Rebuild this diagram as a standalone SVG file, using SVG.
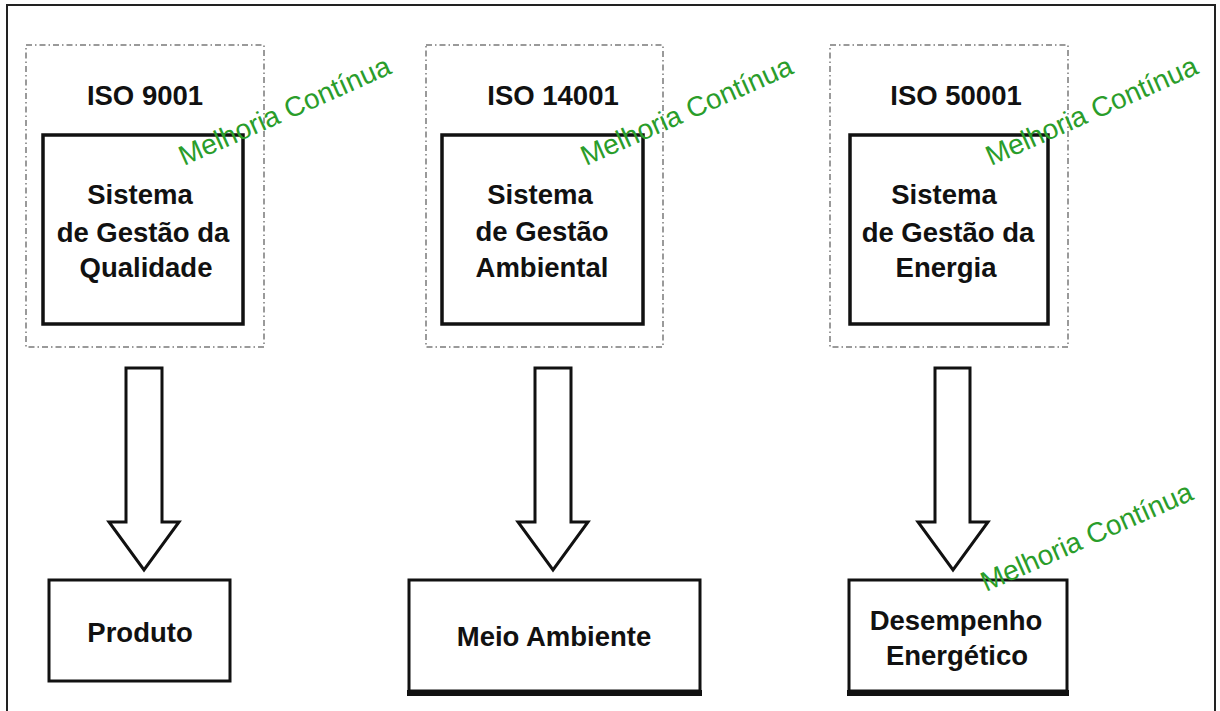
<svg xmlns="http://www.w3.org/2000/svg" width="1220" height="711" viewBox="0 0 1220 711">
<style>
.frame{fill:none;stroke:#222;stroke-width:2}
.dot{fill:none;stroke:#7a7a7a;stroke-width:1.5;stroke-dasharray:6 3 1.5 3}
.box{fill:#fff;stroke:#111;stroke-width:3.5}
.out{fill:#fff;stroke:#111;stroke-width:3}
.arrow{fill:#fff;stroke:#111;stroke-width:3;stroke-linejoin:miter}
.t{font-family:"Liberation Sans",Arial,sans-serif;font-weight:bold;font-size:27.5px;fill:#111;text-anchor:middle}
.g{font-family:"Liberation Sans",Arial,sans-serif;font-size:28px;fill:#2a9d2a}
</style>
<rect width="1220" height="711" fill="#fff"/>
<rect class="frame" x="7" y="5" width="1208" height="730"/>

<g id="iso9001">
<rect class="dot" x="26" y="45" width="238" height="302"/>
<text class="t" x="145" y="105">ISO 9001</text>
<rect class="box" x="43" y="135" width="200" height="189"/>
<text class="t" x="140" y="204">Sistema</text>
<text class="t" x="143" y="242">de Gestão da</text>
<text class="t" x="146" y="277">Qualidade</text>
</g>

<g id="iso14001">
<rect class="dot" x="426" y="45" width="237" height="302"/>
<text class="t" x="553" y="105">ISO 14001</text>
<rect class="box" x="442" y="135" width="201" height="189"/>
<text class="t" x="540" y="204">Sistema</text>
<text class="t" x="542" y="241">de Gestão</text>
<text class="t" x="542" y="277">Ambiental</text>
</g>

<g id="iso50001">
<rect class="dot" x="830" y="45" width="238" height="302"/>
<text class="t" x="956" y="105">ISO 50001</text>
<rect class="box" x="850" y="135" width="198" height="189"/>
<text class="t" x="944" y="204">Sistema</text>
<text class="t" x="948" y="242">de Gestão da</text>
<text class="t" x="946" y="277">Energia</text>
</g>

<g id="connectors">
<polygon class="arrow" points="126,368 162,368 162,522 179,522 144,570 109,522 126,522"/>
<polygon class="arrow" points="535,368 571,368 571,522 588,522 553,570 518,522 535,522"/>
<polygon class="arrow" points="935,368 970,368 970,522 988,522 953,570 918,522 935,522"/>
</g>

<g id="produto">
<rect class="out" x="49" y="580" width="181" height="101"/>
<text class="t" x="140" y="642">Produto</text>
</g>

<g id="meio-ambiente">
<rect class="out" x="409" y="580" width="291" height="111"/>
<line x1="407" y1="693" x2="702" y2="693" stroke="#111" stroke-width="6"/>
<text class="t" x="554" y="646">Meio Ambiente</text>
</g>

<g id="desempenho">
<rect class="out" x="849" y="580" width="218" height="111"/>
<line x1="847" y1="693" x2="1069" y2="693" stroke="#111" stroke-width="6"/>
<text class="t" x="956" y="630">Desempenho</text>
<text class="t" x="957" y="665">Energético</text>
</g>

<g id="melhoria">
<text class="g" transform="translate(184,166) rotate(-24)">Melhoria Contínua</text>
<text class="g" transform="translate(586,166) rotate(-24)">Melhoria Contínua</text>
<text class="g" transform="translate(991,166) rotate(-24)">Melhoria Contínua</text>
<text class="g" transform="translate(986,592) rotate(-24)">Melhoria Contínua</text>
</g>
</svg>
